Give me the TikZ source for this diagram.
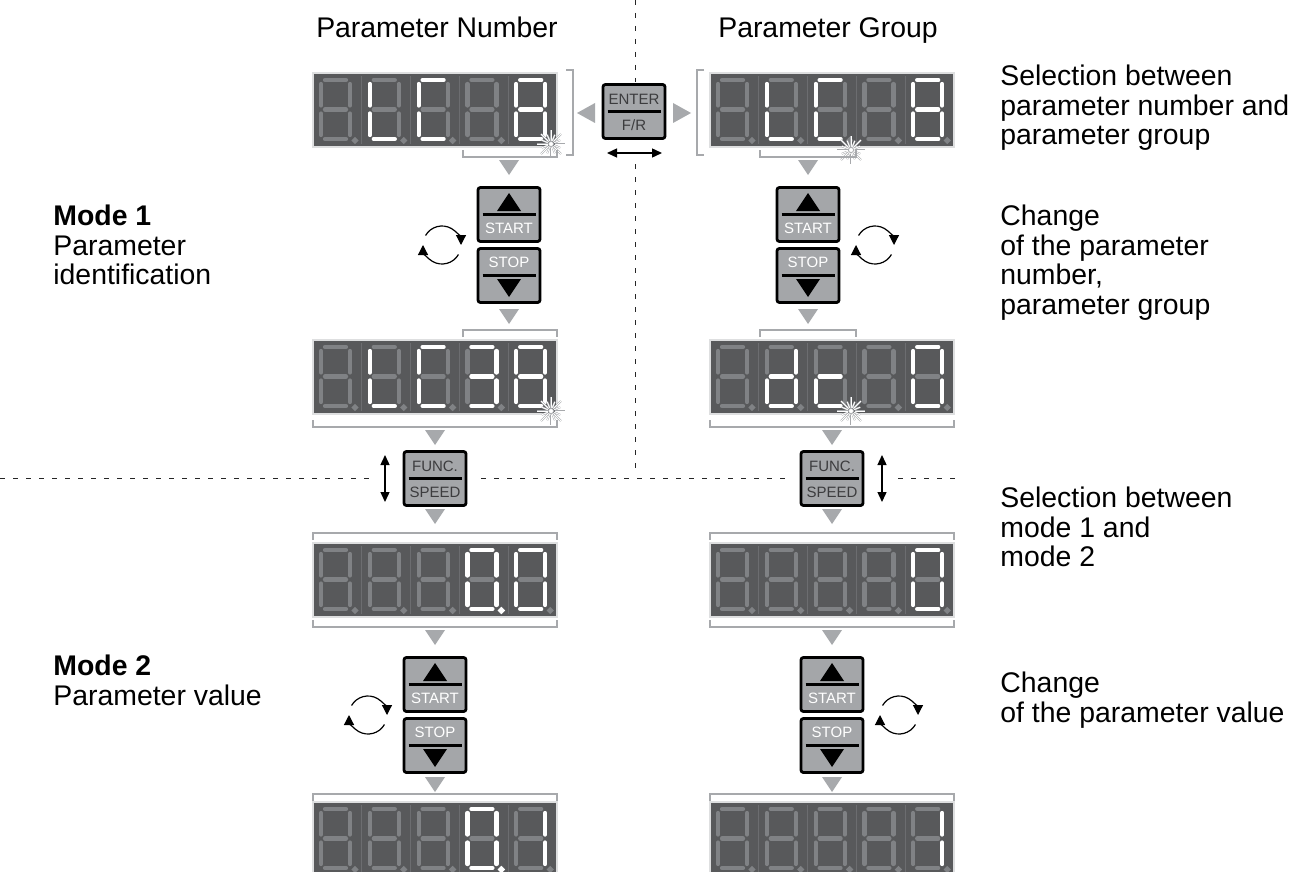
\documentclass[tikz,border=0pt]{standalone}
\usepackage{fontspec}
\setmainfont{Liberation Sans}
\usetikzlibrary{arrows.meta}
\definecolor{lcdgray}{RGB}{88,89,91}
\definecolor{lcdrim}{RGB}{222,223,224}
\definecolor{segdim}{RGB}{128,130,133}
\definecolor{sepgray}{RGB}{108,109,112}
\definecolor{markgray}{RGB}{167,169,172}
\definecolor{capgray}{RGB}{164,166,169}
\definecolor{captext}{RGB}{60,60,62}
\tikzset{
  lcd/.style={draw=lcdrim,line width=1.2pt,fill=lcdgray,minimum width=122pt,minimum height=37pt,inner sep=0pt},
  segoff/.style={draw=segdim,line width=2.1pt,line cap=round},
  segon/.style={draw=white,line width=2.1pt,line cap=round},
  sepline/.style={draw=sepgray,line width=0.4pt},
  keycap/.style={draw=black,line width=1.4pt,fill=capgray,rounded corners=1.2pt,minimum width=31pt,minimum height=27pt,inner sep=0pt},
  keybar/.style={draw=black,line width=1.5pt},
  keylab/.style={font=\fontsize{7.5}{8}\selectfont,inner sep=0pt},
  brk/.style={draw=markgray,line width=0.8pt},
  tri/.style={fill=markgray},
  dashln/.style={draw=black!85,line width=0.5pt,dash pattern=on 2.5pt off 4pt},
  twoway/.style={arrows={Triangle[length=5pt,width=4.5pt]-Triangle[length=5pt,width=4.5pt]},line width=0.7pt},
  spin/.style={-{Triangle[length=5pt,width=5pt]},line width=0.6pt},
  txt/.style={font=\fontsize{14.2}{14.75}\selectfont,align=left,anchor=north west,inner sep=0pt},
  headtxt/.style={font=\fontsize{14.2}{15}\selectfont,inner sep=0pt,anchor=base}
}
% seven segment geometry, one cell (px, y down)
\def\sga{(12,7)--(33,7)}
\def\sgb{(37,11)--(37,32.5)}
\def\sgc{(37,40.5)--(37,62)}
\def\sgd{(12,66)--(33,66)}
\def\sge{(8,40.5)--(8,62)}
\def\sgf{(8,11)--(8,32.5)}
\def\sgg{(12,36.5)--(33,36.5)}
\def\sgp{(42,67.5) circle (0.7)}
\def\sgn{}
\newcommand\lcddigit[3]{%
  \begin{scope}[shift={(#1,#2)}]
    \foreach \s in {a,b,c,d,e,f,g,p}{\draw[segoff] \csname sg\s\endcsname;}
    \foreach \s in {#3}{\draw[segon] \csname sg\s\endcsname;}
  \end{scope}}
\newcommand\lcdrow[7]{%
  \foreach \k in {1,2,3,4}{\draw[sepline] (#1+\k*48.8,#2+3) -- (#1+\k*48.8,#2+71);}
  \lcddigit{#1}{#2}{#3}\lcddigit{#1+48.8}{#2}{#4}\lcddigit{#1+97.6}{#2}{#5}%
  \lcddigit{#1+146.4}{#2}{#6}\lcddigit{#1+195.2}{#2}{#7}}
\newcommand\blink[2]{%
  \foreach \a/\r in {0/14,22.5/10,45/14,67.5/10,90/14,112.5/10,135/14,157.5/10,180/14,202.5/10,225/14,247.5/10,270/14,292.5/10,315/14,337.5/10}{%
    \draw[markgray,line width=0.9pt] ([shift={(\a:3.5)}]#1,#2) -- ([shift={(\a:\r)}]#1,#2);
    \draw[white,line width=0.45pt] ([shift={(\a:3.5)}]#1,#2) -- ([shift={(\a:\r)}]#1,#2);}
  \filldraw[fill=white,draw=markgray,line width=0.4pt] (#1,#2) circle (2.6);}
\newcommand\upkey[2]{%
  \node[keycap] (#1) at (#2) {};
  \fill ([shift={(-12,-3.5)}]#1.center) -- ([shift={(12,-3.5)}]#1.center) -- ([shift={(0,-21.5)}]#1.center) -- cycle;
  \draw[keybar] ([shift={(-26.5,0)}]#1.center) -- ([shift={(26.5,0)}]#1.center);
  \node[keylab,text=white] at ([shift={(0,13.5)}]#1.center) {START};}
\newcommand\downkey[2]{%
  \node[keycap] (#1) at (#2) {};
  \node[keylab,text=white] at ([shift={(0,-13.5)}]#1.center) {STOP};
  \draw[keybar] ([shift={(-26.5,0)}]#1.center) -- ([shift={(26.5,0)}]#1.center);
  \fill ([shift={(-12,3.5)}]#1.center) -- ([shift={(12,3.5)}]#1.center) -- ([shift={(0,21.5)}]#1.center) -- cycle;}
\newcommand\twokey[4]{%
  \node[keycap] (#1) at (#2) {};
  \node[keylab,text=captext] at ([shift={(0,-12.5)}]#1.center) {#3};
  \draw[keybar] ([shift={(-26.5,0)}]#1.center) -- ([shift={(26.5,0)}]#1.center);
  \node[keylab,text=captext] at ([shift={(0,13.5)}]#1.center) {#4};}
\newcommand\spinarrows[2]{%
  \draw[spin] ([shift={(-150:19)}]#1,#2) arc[start angle=-150,end angle=0,radius=19];
  \draw[spin] ([shift={(30:19)}]#1,#2) arc[start angle=30,end angle=180,radius=19];}
\newcommand\tridown[2]{\fill[tri] (#1-10,#2) -- (#1+10,#2) -- (#1,#2+15) -- cycle;}

\begin{document}
\begin{tikzpicture}[x=0.5pt,y=-0.5pt]
  \useasboundingbox[fill=white] (0,0) rectangle (1300,872);
  % dashed separators
  \draw[dashln] (635,0) -- (635,82);
  \draw[dashln] (635,164) -- (635,470);
  \draw[dashln] (0,478) -- (372,478);
  \draw[dashln] (481,478) -- (790,478);
  \draw[dashln] (898,478) -- (962,478);
  % headers and notes
  \node[headtxt] (hNum) at (437,38) {Parameter Number};
  \node[headtxt] (hGrp) at (828,38) {Parameter Group};
  \node[txt] (tMode1) at (53,205) {\textbf{Mode 1}\\Parameter\\identification};
  \node[txt] (tMode2) at (53,655) {\textbf{Mode 2}\\Parameter value};
  \node[txt] (tSel1) at (1000,65) {Selection between\\parameter number and\\parameter group};
  \node[txt] (tChg1) at (1000,205) {Change\\of the parameter\\number,\\parameter group};
  \node[txt] (tSel2) at (1000,487) {Selection between\\mode 1 and\\mode 2};
  \node[txt] (tChg2) at (1000,672) {Change\\of the parameter value};
  % displays
  \node[lcd] (lcdA) at (435,110) {};
  \node[lcd] (lcdB) at (832,110) {};
  \node[lcd] (lcdC) at (435,377) {};
  \node[lcd] (lcdD) at (832,377) {};
  \node[lcd] (lcdE) at (435,580) {};
  \node[lcd] (lcdF) at (832,580) {};
  \node[lcd] (lcdG) at (435,839) {};
  \node[lcd] (lcdH) at (832,839) {};
  \lcdrow{313}{73}{n}{d,e,f}{a,d,e,f}{n}{a,b,c,d,e,f,g}
  \lcdrow{710}{73}{n}{d,e,f}{a,d,e,f}{n}{a,b,c,d,e,f,g}
  \lcdrow{313}{340}{n}{d,e,f}{a,d,e,f}{a,b,c,d,g}{a,b,c,d,e,f,g}
  \lcdrow{710}{340}{n}{b,c,d,e,g}{d,e,g}{n}{a,b,c,d,e,f}
  \lcdrow{313}{543}{n}{n}{n}{a,b,c,d,e,f,p}{a,b,c,d,e,f}
  \lcdrow{710}{543}{n}{n}{n}{n}{a,b,c,d,e,f}
  \lcdrow{313}{802}{n}{n}{n}{a,b,c,d,e,f,p}{b,c}
  \lcdrow{710}{802}{n}{n}{n}{n}{b,c}
  \blink{551}{144}
  \blink{851}{150}
  \blink{551}{411}
  \blink{851}{411}
  % enter key between the two top displays
  \draw[brk] (566,70) -- (573,70) -- (573,155) -- (566,155);
  \draw[brk] (704,70) -- (697,70) -- (697,155) -- (704,155);
  \fill[tri] (595,103) -- (595,123) -- (577,113) -- cycle;
  \fill[tri] (673,103) -- (673,123) -- (691,113) -- cycle;
  \twokey{kEnter}{634,111.5}{ENTER}{F/R}
  \draw[twoway] ([shift={(-27,41.5)}]kEnter.center) -- ([shift={(28,41.5)}]kEnter.center);
  % mode 1, parameter number / group
  \draw[brk] (463,150) -- (463,157) -- (557,157) -- (557,150);
  \draw[brk] (760,150) -- (760,157) -- (856,157) -- (856,150);
  \tridown{509}{160}
  \tridown{808}{160}
  \upkey{kStartA}{509,214.5}
  \downkey{kStopA}{509,275.5}
  \upkey{kStartB}{808,214.5}
  \downkey{kStopB}{808,275.5}
  \spinarrows{442}{245}
  \spinarrows{875}{245}
  \tridown{509}{309}
  \tridown{808}{309}
  \draw[brk] (463,337) -- (463,330) -- (557,330) -- (557,337);
  \draw[brk] (760,337) -- (760,330) -- (856,330) -- (856,337);
  % switching between the modes
  \draw[brk] (313,420) -- (313,427) -- (557,427) -- (557,420);
  \draw[brk] (710,420) -- (710,427) -- (954,427) -- (954,420);
  \tridown{435}{430}
  \tridown{832}{430}
  \twokey{kFuncL}{435,478.5}{FUNC.}{SPEED}
  \twokey{kFuncR}{832,478.5}{FUNC.}{SPEED}
  \draw[twoway] ([shift={(-50,-23.5)}]kFuncL.center) -- ([shift={(-50,23.5)}]kFuncL.center);
  \draw[twoway] ([shift={(50,-23.5)}]kFuncR.center) -- ([shift={(50,23.5)}]kFuncR.center);
  \tridown{435}{509}
  \tridown{832}{509}
  \draw[brk] (313,540) -- (313,533) -- (557,533) -- (557,540);
  \draw[brk] (710,540) -- (710,533) -- (954,533) -- (954,540);
  % mode 2, parameter value
  \draw[brk] (313,620) -- (313,627) -- (557,627) -- (557,620);
  \draw[brk] (710,620) -- (710,627) -- (954,627) -- (954,620);
  \tridown{435}{630}
  \tridown{832}{630}
  \upkey{kStartC}{435,684.5}
  \downkey{kStopC}{435,745.5}
  \upkey{kStartD}{832,684.5}
  \downkey{kStopD}{832,745.5}
  \spinarrows{368}{715}
  \spinarrows{899}{715}
  \tridown{435}{777}
  \tridown{832}{777}
  \draw[brk] (313,801) -- (313,794) -- (557,794) -- (557,801);
  \draw[brk] (710,801) -- (710,794) -- (954,794) -- (954,801);
\end{tikzpicture}
\end{document}
